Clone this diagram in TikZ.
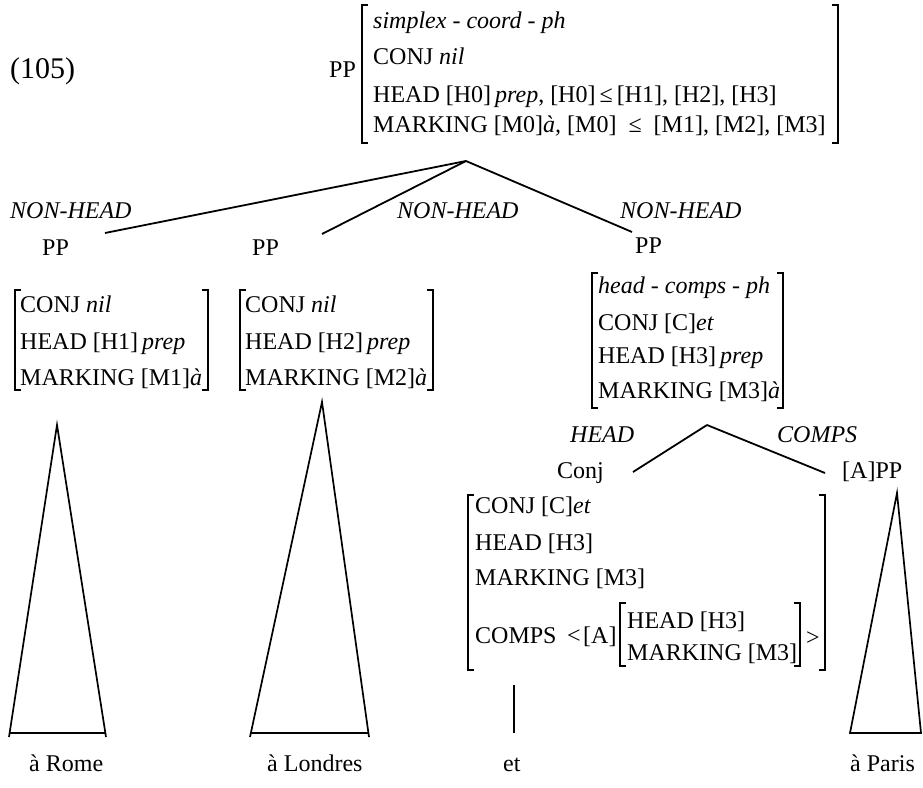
\documentclass[tikz,border=0pt]{standalone}
\usepackage{fontspec}
\setmainfont{Liberation Serif}
% square brackets of a feature structure: left x, right x, top y, bottom y
\newcommand\avmbrackets[4]{%
  \draw[brack] (#1+6,#3) -- (#1,#3) -- (#1,#4) -- (#1+6,#4);
  \draw[brack] (#2-6,#3) -- (#2,#3) -- (#2,#4) -- (#2-6,#4);}
\begin{document}
\begin{tikzpicture}[x=1pt,y=-1pt,
  txt/.style={anchor=base west, inner sep=0pt, font=\fontsize{24}{28}\selectfont},
  role/.style={txt, font=\fontsize{24}{28}\selectfont\itshape},
  branch/.style={line width=1.8pt},
  brack/.style={line width=1.3pt},
  tri/.style={line width=1.7pt, line join=miter}]
\useasboundingbox (0,0) rectangle (923,787);

% example number
\node[anchor=base west, inner sep=0pt, font=\fontsize{30}{34}\selectfont] (exnum) at (10,78) {(105)};

% mother node
\node[txt] (rootcat) at (329,77) {PP};
\node[txt] (r1) at (373,28) {\itshape simplex - coord - ph};
\node[txt] (r2) at (373,64) {CONJ \textit{nil}};
\node[txt] (r3) at (373,102) {HEAD [H0]\,\textit{prep}, [H0]\,≤\,[H1], [H2], [H3]};
\node[txt] (r4) at (373,132) {MARKING [M0]\textit{à,} [M0] \ ≤ \ [M1], [M2], [M3]};
\avmbrackets{362}{838}{5}{143}

% upper branching
\coordinate (top) at (466,161);
\coordinate (d1) at (105,233);
\coordinate (d2) at (322,234);
\coordinate (d3) at (632,232);
\draw[branch] (top) -- (d1);
\draw[branch] (top) -- (d2);
\draw[branch] (top) -- (d3);
\node[role] (nh1) at (10,218) {NON-HEAD};
\node[role] (nh2) at (397,218) {NON-HEAD};
\node[role] (nh3) at (620,218) {NON-HEAD};
\node[txt] (pp1) at (42,255) {PP};
\node[txt] (pp2) at (252,255) {PP};
\node[txt] (pp3) at (635,253) {PP};

% first conjunct
\node[txt] (a1) at (20,312) {CONJ \textit{nil}};
\node[txt] (a2) at (20,349) {HEAD [H1]\,\textit{prep}};
\node[txt] (a3) at (20,385) {MARKING [M1]\textit{à}};
\avmbrackets{15}{208}{290}{390}

% second conjunct
\node[txt] (b1) at (245,312) {CONJ \textit{nil}};
\node[txt] (b2) at (245,349) {HEAD [H2]\,\textit{prep}};
\node[txt] (b3) at (245,385) {MARKING [M2]\textit{à}};
\avmbrackets{240}{433}{290}{390}

% third conjunct
\node[txt] (c1) at (598,293) {\itshape head - comps - ph};
\node[txt] (c2) at (598,330) {CONJ [C]\textit{et}};
\node[txt] (c3) at (598,363) {HEAD [H3]\,\textit{prep}};
\node[txt] (c4) at (598,398) {MARKING [M3]\textit{à}};
\avmbrackets{592}{783}{273}{408}

% head-complement branching
\coordinate (low) at (707,425);
\coordinate (e1) at (633,472);
\coordinate (e2) at (825,473);
\draw[branch] (low) -- (e1);
\draw[branch] (low) -- (e2);
\node[role] (hd) at (570,442) {HEAD};
\node[role] (cp) at (777,442) {COMPS};
\node[txt] (conj) at (557,478) {Conj};
\node[txt] (app) at (842,478) {[A]PP};

% conjunction entry
\node[txt] (k1) at (475,513) {CONJ [C]\textit{et}};
\node[txt] (k2) at (475,550) {HEAD [H3]};
\node[txt] (k3) at (475,585) {MARKING [M3]};
\node[txt] (k4) at (475,643) {COMPS};
\node[txt] (lt) at (567,643) {<};
\node[txt] (tagA) at (583,643) {[A]};
\node[txt] (i1) at (627,628) {HEAD [H3]};
\node[txt] (i2) at (627,660) {MARKING [M3]};
\node[txt] (gt) at (806,645) {>};
\avmbrackets{620}{800}{603}{666}
\avmbrackets{468}{825}{495}{670}

% lexical material
\coordinate (etTop) at (514,685);
\coordinate (etBot) at (514,733);
\draw[branch] (etTop) -- (etBot);

\coordinate (romeTop) at (57,425);
\coordinate (romeL) at (9,737);
\coordinate (romeR) at (106,737);
\draw[tri] (romeL) -- (romeTop) -- (romeR);
\draw[tri] ([yshift=4pt]romeL) -- ([yshift=4pt]romeR);

\coordinate (londTop) at (322,402);
\coordinate (londL) at (250,737);
\coordinate (londR) at (369,737);
\draw[tri] (londL) -- (londTop) -- (londR);
\draw[tri] ([yshift=4pt]londL) -- ([yshift=4pt]londR);

\coordinate (parTop) at (897,493);
\coordinate (parL) at (850,733);
\coordinate (parR) at (921,733);
\draw[tri] (parL) -- (parTop) -- (parR) -- cycle;

\node[txt] (w1) at (29,771) {à Rome};
\node[txt] (w2) at (267,771) {à Londres};
\node[txt] (w3) at (503,771) {et};
\node[txt] (w4) at (850,771) {à Paris};
\end{tikzpicture}
\end{document}
